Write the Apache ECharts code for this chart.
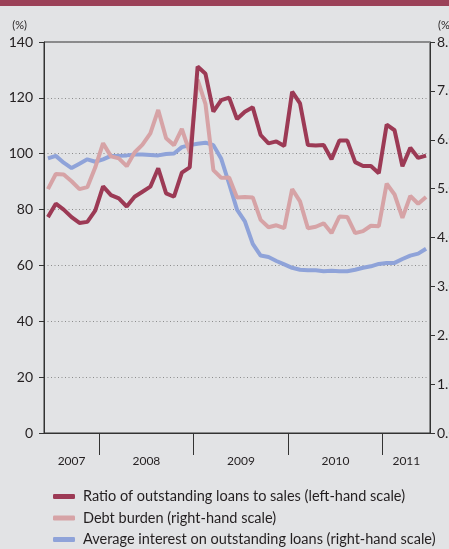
<!DOCTYPE html>
<html>
<head>
<meta charset="utf-8">
<script src="https://cdn.jsdelivr.net/npm/echarts@6/dist/echarts.min.js"></script>
<style>
    html, body { margin: 0; padding: 0; background: #e2e3e5; }
    #chart1 { width: 449px; height: 549px; }
</style>
</head>
<body>
<div id="chart1"></div>
<script>
// monthly, Jun 2007 - Jun 2011
var months = [
    '2007-06', '2007-07', '2007-08', '2007-09', '2007-10', '2007-11', '2007-12',
    '2008-01', '2008-02', '2008-03', '2008-04', '2008-05', '2008-06', '2008-07', '2008-08', '2008-09', '2008-10', '2008-11', '2008-12',
    '2009-01', '2009-02', '2009-03', '2009-04', '2009-05', '2009-06', '2009-07', '2009-08', '2009-09', '2009-10', '2009-11', '2009-12',
    '2010-01', '2010-02', '2010-03', '2010-04', '2010-05', '2010-06', '2010-07', '2010-08', '2010-09', '2010-10', '2010-11', '2010-12',
    '2011-01', '2011-02', '2011-03', '2011-04', '2011-05', '2011-06'
];
var years = ['2007', '2008', '2009', '2010', '2011'];

// left-hand scale (%)
var loansToSales = [
    77.3, 82.1, 80.0, 77.3, 75.2, 75.6, 79.6,
    88.3, 85.2, 84.0, 81.1, 84.6, 86.4, 88.2, 94.8, 85.8, 84.6, 93.2, 95.1,
    131.2, 128.6, 115.1, 119.2, 120.1, 112.4, 115.0, 116.6, 106.7, 103.7, 104.4, 102.8,
    122.2, 118.0, 103.1, 102.9, 103.1, 98.0, 104.7, 104.7, 97.0, 95.6, 95.6, 93.0,
    110.4, 108.4, 95.5, 102.1, 98.5, 99.3
];
// right-hand scale (%)
var debtBurden = [
    4.99, 5.30, 5.29, 5.15, 4.99, 5.03, 5.43,
    5.93, 5.66, 5.62, 5.46, 5.74, 5.90, 6.13, 6.61, 6.03, 5.89, 6.22, 5.74,
    7.23, 6.73, 5.38, 5.22, 5.23, 4.82, 4.83, 4.82, 4.36, 4.21, 4.25, 4.19,
    4.99, 4.74, 4.19, 4.22, 4.29, 4.09, 4.43, 4.42, 4.09, 4.13, 4.24, 4.23,
    5.10, 4.88, 4.40, 4.85, 4.69, 4.83
];
var avgInterest = [
    5.62, 5.67, 5.53, 5.42, 5.51, 5.60, 5.55,
    5.60, 5.67, 5.67, 5.68, 5.70, 5.70, 5.69, 5.68, 5.71, 5.72, 5.85, 5.89,
    5.92, 5.94, 5.89, 5.61, 5.10, 4.57, 4.33, 3.87, 3.63, 3.60, 3.52, 3.45,
    3.38, 3.34, 3.33, 3.33, 3.31, 3.32, 3.31, 3.31, 3.34, 3.38, 3.41, 3.46,
    3.48, 3.48, 3.56, 3.63, 3.67, 3.77
];

var seriesNames = [
    'Ratio of outstanding loans to sales (left-hand scale)',
    'Debt burden (right-hand scale)',
    'Average interest on outstanding loans (right-hand scale)'
];

var textColor = '#231f20';
var axisColor = '#333333';
var fontFamily = 'Lato, "Liberation Sans", sans-serif';

// month boundaries (start of each month + end of the last one)
var boundaries = months.concat(['2011-07']);

// year-label positions, in months from the start
var yearLabelPos = [];
years.forEach(function (y) {
    var first = -1, last = -1;
    months.forEach(function (m, i) {
        if (m.slice(0, 4) === y) {
            if (first < 0) first = i;
            last = i;
        }
    });
    yearLabelPos.push((first + last + 1) / 2);
});

var myChart = echarts.init(document.getElementById('chart1'));

var option = {
    backgroundColor: '#e2e3e5',
    animation: false,
    textStyle: { fontFamily: fontFamily },
    graphic: [{
        type: 'rect',
        left: 0, top: 0,
        shape: { width: 449, height: 6 },
        style: { fill: '#9b4158' }
    }],
    grid: {
        left: 44,
        right: 19,
        top: 42,
        bottom: 116,
        outerBoundsMode: 'none',
        containLabel: false,
        show: true,
        borderColor: axisColor,
        borderWidth: 1,
        backgroundColor: 'transparent'
    },
    legend: {
        orient: 'vertical',
        left: 53,
        top: 489,
        height: 120,
        padding: 0,
        itemWidth: 22,
        itemHeight: 5,
        itemGap: 6.5,
        icon: 'roundRect',
        data: seriesNames,
        textStyle: { color: textColor, fontSize: 14.5, fontFamily: fontFamily, padding: [0, 0, 0, 3] }
    },
    xAxis: [{
        // months: short ticks
        type: 'category',
        data: months,
        boundaryGap: true,
        axisLine: { lineStyle: { color: axisColor, width: 1 } },
        axisTick: { interval: 0, length: 4, lineStyle: { color: axisColor } },
        axisLabel: { show: false },
        splitLine: { show: false }
    }, {
        // year boundaries: long ticks
        type: 'category',
        data: boundaries,
        boundaryGap: false,
        position: 'bottom',
        axisLine: { show: false },
        axisTick: {
            length: 22,
            interval: function (i, v) { return v.slice(5) === '01'; },
            lineStyle: { color: axisColor }
        },
        axisLabel: { show: false },
        splitLine: { show: false }
    }, {
        // year labels, centred in each year
        type: 'value',
        position: 'bottom',
        min: 0,
        max: months.length,
        axisLine: { show: false },
        axisTick: { show: false },
        axisLabel: {
            customValues: yearLabelPos,
            margin: 22,
            fontSize: 12,
            color: textColor,
            formatter: function (v) {
                return years[yearLabelPos.indexOf(v)] || '';
            }
        },
        splitLine: { show: false }
    }],
    yAxis: [{
        type: 'value',
        min: 0,
        max: 140,
        interval: 20,
        name: '(%)',
        nameLocation: 'end',
        nameGap: 11,
        nameTextStyle: { color: textColor, fontSize: 11, align: 'right', padding: [0, 17, 0, 0] },
        axisLine: { show: true, lineStyle: { color: axisColor } },
        axisTick: { show: true, length: 5, lineStyle: { color: axisColor } },
        axisLabel: { color: textColor, fontSize: 14, margin: 11 },
        splitLine: { show: true, lineStyle: { color: '#8c8c8c', type: [1, 2.5], width: 1 } }
    }, {
        type: 'value',
        min: 0,
        max: 8,
        interval: 1,
        name: '(%)',
        nameLocation: 'end',
        nameGap: 11,
        nameTextStyle: { color: textColor, fontSize: 11, align: 'left', padding: [0, 0, 0, 8] },
        axisLine: { show: true, lineStyle: { color: axisColor } },
        axisTick: { show: true, length: 5, lineStyle: { color: axisColor } },
        axisLabel: {
            color: textColor, fontSize: 14, margin: 7,
            formatter: function (v) { return v.toFixed(1); }
        },
        splitLine: { show: false }
    }],
    series: [{
        name: seriesNames[0],
        type: 'line',
        yAxisIndex: 0,
        data: loansToSales,
        symbol: 'none',
        z: 4,
        lineStyle: { color: '#9c3a55', width: 4 },
        itemStyle: { color: '#9c3a55' }
    }, {
        name: seriesNames[1],
        type: 'line',
        yAxisIndex: 1,
        data: debtBurden,
        symbol: 'none',
        z: 3,
        lineStyle: { color: '#d6a3a6', width: 4 },
        itemStyle: { color: '#d6a3a6' }
    }, {
        name: seriesNames[2],
        type: 'line',
        yAxisIndex: 1,
        data: avgInterest,
        symbol: 'none',
        z: 2,
        lineStyle: { color: '#8fa3d9', width: 4 },
        itemStyle: { color: '#8fa3d9' }
    }]
};

myChart.setOption(option);
</script>
</body>
</html>
